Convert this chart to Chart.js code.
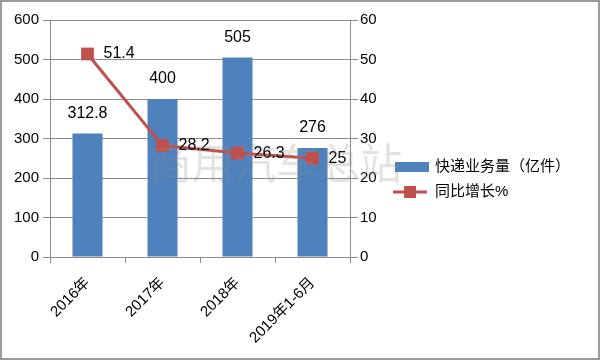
<!DOCTYPE html>
<html>
<head>
<meta charset="utf-8">
<script src="https://cdn.jsdelivr.net/npm/chart.js@4/dist/chart.umd.min.js"></script>
<style>
  html, body { margin: 0; padding: 0; background: #fff; }
  #wrap { position: relative; width: 600px; height: 360px; box-sizing: border-box; border: 2px solid #9a9a9a; background: #fff; }
  canvas { display: block; }
</style>
</head>
<body>
<div id="wrap"><canvas id="c" width="596" height="356"></canvas></div>
<script>
const categories = ['2016年', '2017年', '2018年', '2019年1-6月'];
const volume = [312.8, 400, 505, 276];
const growth = [51.4, 28.2, 26.3, 25];
const volumeLabel = '快递业务量（亿件）';
const growthLabel = '同比增长%';
const leftTicks = [0, 100, 200, 300, 400, 500, 600];
const rightTicks = [0, 10, 20, 30, 40, 50, 60];
const watermark = '商用汽车总站';

const BLUE = '#4F81BD';
const RED = '#C0504D';
const GRID = '#8c8c8c';
const FONT = '"Liberation Sans", "Noto Sans CJK SC", sans-serif';

const labelPlugin = {
  id: 'valueLabels',
  afterDatasetsDraw(chart) {
    const ctx = chart.ctx;
    ctx.save();
    ctx.font = '16px ' + FONT;
    ctx.fillStyle = '#000';
    const barMeta = chart.getDatasetMeta(0);
    barMeta.data.forEach((el, i) => {
      ctx.textAlign = 'center';
      ctx.textBaseline = 'middle';
      ctx.fillText(String(volume[i]), el.x, el.y - 20);
    });
    const lineMeta = chart.getDatasetMeta(1);
    lineMeta.data.forEach((el, i) => {
      ctx.textAlign = 'left';
      ctx.textBaseline = 'middle';
      ctx.fillText(String(growth[i]), el.x + 16, el.y);
    });
    ctx.restore();
  }
};

const extrasPlugin = {
  id: 'extras',
  afterDraw(chart) {
    const ctx = chart.ctx;
    ctx.save();
    // legend
    ctx.fillStyle = BLUE;
    ctx.fillRect(393, 160, 34, 10);
    ctx.strokeStyle = RED;
    ctx.lineWidth = 3;
    ctx.beginPath();
    ctx.moveTo(391, 190);
    ctx.lineTo(425, 190);
    ctx.stroke();
    ctx.fillStyle = RED;
    ctx.fillRect(402, 184, 12, 12);
    ctx.fillStyle = '#000';
    ctx.font = '15px ' + FONT;
    ctx.textAlign = 'left';
    ctx.textBaseline = 'middle';
    ctx.fillText(volumeLabel, 433, 165);
    ctx.fillText(growthLabel, 433, 190);
    // watermark
    ctx.font = '42px "Noto Sans CJK SC", sans-serif';
    ctx.fillStyle = 'rgba(140,140,140,0.25)';
    ctx.textAlign = 'left';
    ctx.textBaseline = 'middle';
    ctx.fillText(watermark, 148, 161);
    ctx.restore();
  }
};

new Chart(document.getElementById('c'), {
  data: {
    labels: categories,
    datasets: [
      {
        type: 'bar',
        label: volumeLabel,
        data: volume,
        backgroundColor: BLUE,
        yAxisID: 'y',
        order: 1,
        barPercentage: 0.4,
        categoryPercentage: 1.0
      },
      {
        type: 'line',
        label: growthLabel,
        data: growth,
        borderColor: RED,
        backgroundColor: RED,
        borderWidth: 3,
        pointStyle: 'rect',
        pointRadius: 9,
        pointBackgroundColor: RED,
        pointBorderColor: RED,
        pointBorderWidth: 0,
        tension: 0,
        yAxisID: 'y1',
        order: 0
      }
    ]
  },
  options: {
    responsive: false,
    animation: false,
    devicePixelRatio: 1,
    layout: { padding: { left: 0, right: 216, top: 18, bottom: 0 } },
    plugins: {
      legend: { display: false },
      tooltip: { enabled: false }
    },
    scales: {
      x: {
        offset: true,
        grid: { display: true, drawOnChartArea: false, drawTicks: true, tickLength: 6, offset: true, color: GRID },
        border: { display: true, color: GRID, width: 1 },
        ticks: { color: '#000', font: { family: FONT, size: 15 }, minRotation: 45, maxRotation: 45, padding: 11 },
        afterFit(s) { s.height = 101; }
      },
      y: {
        position: 'left',
        min: 0, max: 600,
        afterBuildTicks(s) { s.ticks = leftTicks.map(v => ({ value: v })); },
        grid: { color: GRID, tickLength: 7 },
        border: { display: true, color: GRID, width: 1 },
        ticks: { color: '#000', font: { family: FONT, size: 15 }, padding: 4 },
        afterFit(s) { s.width = 48; }
      },
      y1: {
        position: 'right',
        min: 0, max: 60,
        afterBuildTicks(s) { s.ticks = rightTicks.map(v => ({ value: v })); },
        grid: { drawOnChartArea: false, color: GRID, tickLength: 8 },
        border: { display: true, color: GRID, width: 1 },
        ticks: { color: '#000', font: { family: FONT, size: 15 }, padding: 2 },
        afterFit(s) { s.width = 32; }
      }
    }
  },
  plugins: [labelPlugin, extrasPlugin]
});
</script>
</body>
</html>
